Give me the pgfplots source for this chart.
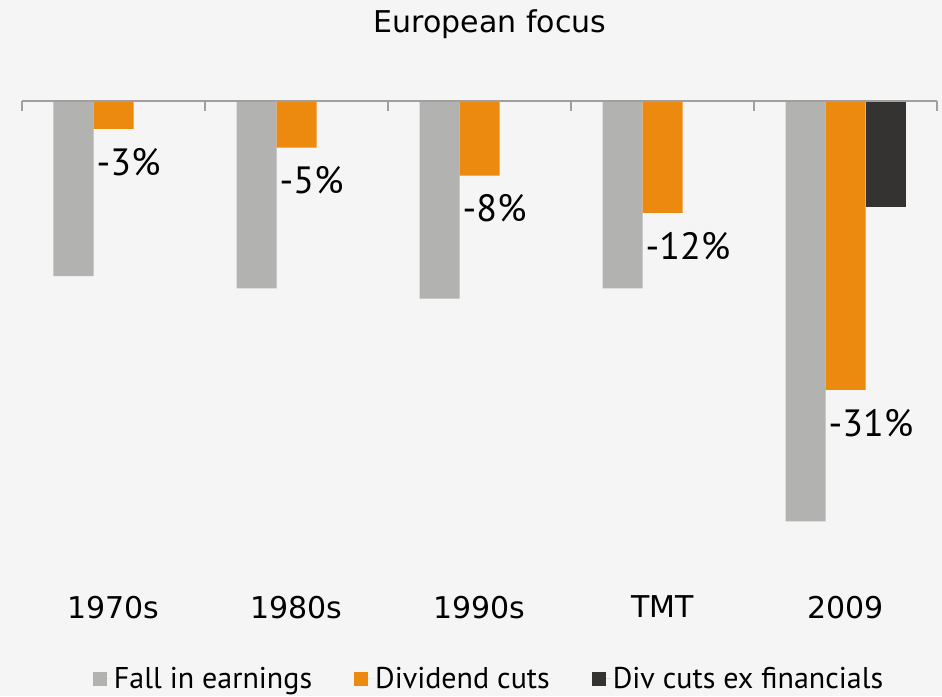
\documentclass[border=0pt]{standalone}
\usepackage{fontspec}
\setmainfont{DejaVu Sans}
\newfontfamily\labfont{PT Sans}
\usepackage{pgfplots}
\pgfplotsset{compat=1.18}
\definecolor{bg}{HTML}{F5F5F5}
\definecolor{cgray}{HTML}{B2B2B1}
\definecolor{corange}{HTML}{EC8A10}
\definecolor{cdark}{HTML}{343331}
\definecolor{axgray}{HTML}{A0A0A0}
\begin{document}
\begin{tikzpicture}
\fill[bg] (0,0) rectangle (942pt,696pt);
\node[font=\fontsize{30}{36}\selectfont] at (490pt,672pt) {European focus};
\begin{axis}[
  at={(22pt,110.36pt)}, anchor=south west,
  scale only axis, width=915pt, height=484.64pt,
  xmin=-0.5, xmax=4.5, ymin=-52, ymax=0,
  ybar=0pt, bar width=40pt,
  axis line style={draw=none},
  major tick length=0pt,
  ytick=\empty,
  xtick={0,1,2,3,4},
  xticklabels={1970s,1980s,1990s,TMT,2009},
  xticklabel style={font=\fontsize{30}{36}\selectfont, inner sep=0pt, yshift=-10pt},
  clip=false,
  legend columns=3,
  legend style={at={(axis description cs:0.5104,-0.191)}, anchor=center, draw=none, fill=none,
    font=\labfont\fontsize{30}{35}\selectfont,
    /tikz/every even column/.append style={column sep=40pt}},
  legend image code/.code={\path (0pt,0pt) -- (19pt,0pt); \fill[#1] (0pt,-8pt) rectangle (14pt,6pt);},
]
\addplot[fill=cgray, draw=none] coordinates {(0,-18.8) (1,-20.1) (2,-21.2) (3,-20.1) (4,-45.1)};
\addlegendentry{Fall in earnings}
\addplot[fill=corange, draw=none, nodes near coords, point meta=explicit symbolic,
  every node near coord/.append style={anchor=north west, inner sep=0pt, xshift=-17pt, yshift=-19pt,
    font=\labfont\fontsize{38}{44}\selectfont, text=black}]
  coordinates {(0,-3) [-3\%] (1,-5) [-5\%] (2,-8) [-8\%] (3,-12) [-12\%] (4,-31) [-31\%]};
\addlegendentry{Dividend cuts}
\addplot[fill=cdark, draw=none] coordinates {(4,-11.4)};
\addlegendentry{Div cuts ex financials}
\draw[axgray, line width=1.2pt] (axis cs:-0.5,0) -- (axis cs:4.5,0);
\pgfplotsinvokeforeach{-0.5,0.5,1.5,2.5,3.5,4.5}{\draw[axgray, line width=1.2pt] (axis cs:#1,0) -- ([yshift=-10pt]axis cs:#1,0);}
\end{axis}
\pgfresetboundingbox
\path (0,0) rectangle (942pt,696pt);
\end{tikzpicture}
\end{document}
